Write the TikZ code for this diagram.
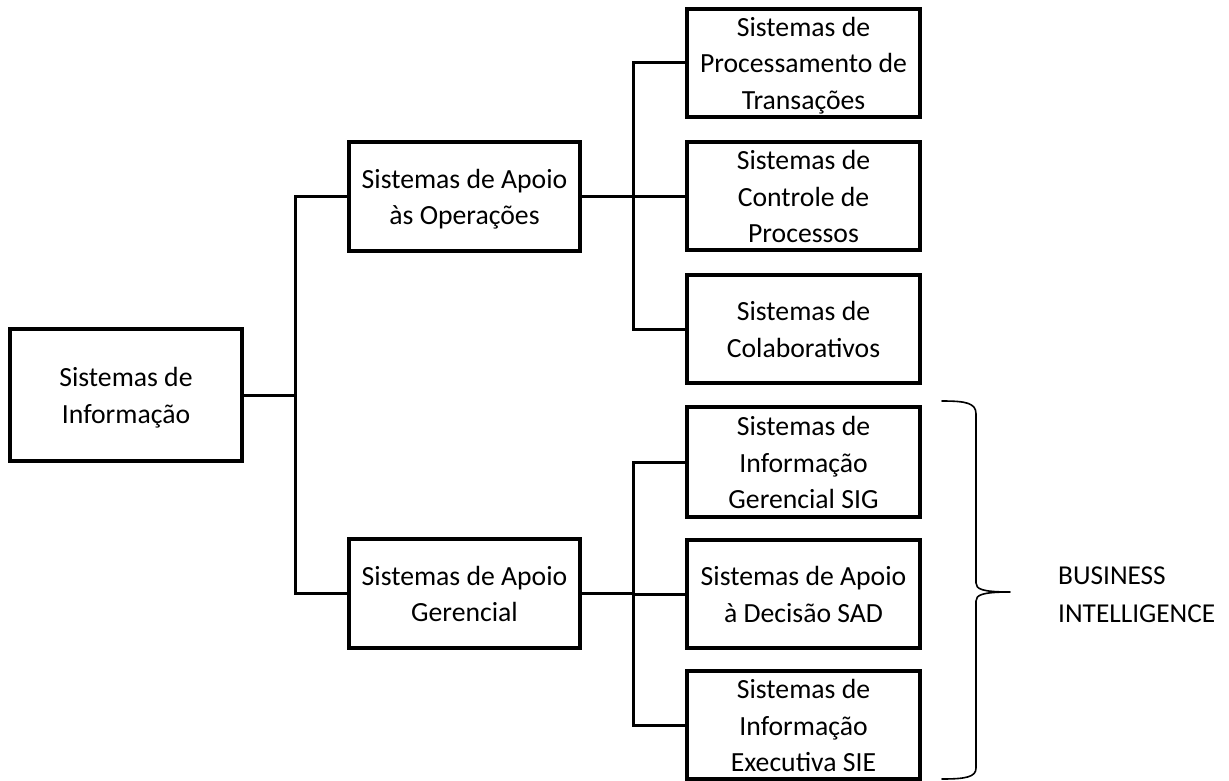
\documentclass[tikz,border=0pt]{standalone}
\usepackage{fontspec}
\setmainfont{Carlito}
% fixed line strut so every text line sits at the same height
\newcommand\tstrut{\rule[-6pt]{0pt}{32pt}}
\begin{document}
\begin{tikzpicture}[x=1pt,y=-1pt,
  box/.style={draw, line width=3.3pt, inner sep=0pt, minimum width=232pt,
    minimum height=108pt, align=center,
    font=\fontsize{27.7}{36.5}\selectfont},
  link/.style={line width=3pt},
  brace/.style={line width=1.6pt, line cap=round, line join=round}]
\useasboundingbox (0,0) rectangle (1229,781);

% root
\node[box, minimum height=132pt] (si) at (126,395)
  {\tstrut Sistemas de\\\tstrut Informação};

% second level
\node[box, minimum width=231pt, minimum height=109pt] (ops) at (464.5,196.5)
  {\tstrut Sistemas de Apoio\\\tstrut às Operações};
\node[box, minimum width=231pt, minimum height=109pt] (ger) at (464.5,593.5)
  {\tstrut Sistemas de Apoio\\\tstrut Gerencial};

% operational systems
\node[box, minimum width=233pt] (r1) at (803.5,63)
  {\tstrut Sistemas de\\\tstrut Processamento de\\\tstrut Transações};
\node[box, minimum width=233pt] (r2) at (803.5,196)
  {\tstrut Sistemas de\\\tstrut Controle de\\\tstrut Processos};
\node[box, minimum width=233pt] (r3) at (803.5,329)
  {\tstrut Sistemas de\\\tstrut Colaborativos};

% management systems
\node[box, minimum width=233pt, minimum height=110pt] (r4) at (803.5,462)
  {\tstrut Sistemas de\\\tstrut Informação\\\tstrut Gerencial SIG};
\node[box, minimum width=233pt] (r5) at (803.5,594)
  {\tstrut Sistemas de Apoio\\\tstrut à Decisão SAD};
\node[box, minimum width=233pt] (r6) at (803.5,725)
  {\tstrut Sistemas de\\\tstrut Informação\\\tstrut Executiva SIE};

% junction columns
\coordinate (ja) at (295,395);
\coordinate (jb) at (633,196);
\coordinate (jc) at (633,593);

% connectors
\draw[link] (si.east) -- (si.east -| ja);
\draw[link] (ops.west) -- (ops.west -| ja) -- (ger.west -| ja) -- (ger.west);

\draw[link] (ops.east) -- (ops.east -| jb);
\draw[link] (r1.west) -- (r1.west -| jb) -- (r3.west -| jb) -- (r3.west);
\draw[link] (r2.west) -- (r2.west -| jb);

\draw[link] (ger.east) -- (ger.east -| jc);
\draw[link] (r4.west) -- (r4.west -| jc) -- (r6.west -| jc) -- (r6.west);
\draw[link] (r5.west) -- (r5.west -| jc);

% brace around the business intelligence systems
\coordinate (btop) at (942,401);
\coordinate (btip) at (1010,592);
\coordinate (bbot) at (942,779);
\draw[brace] (btop) .. controls (966,401) and (976,403) .. (976,414)
  -- (976,583) .. controls (976,589) and (982,592) .. (btip)
  .. controls (982,592) and (976,595) .. (976,601)
  -- (976,768) .. controls (976,777) and (966,779) .. (bbot);

\node[anchor=west, inner sep=0pt, align=left,
  font=\fontsize{27.3}{38}\selectfont] (bi) at (1058,593)
  {\tstrut BUSINESS\\\tstrut INTELLIGENCE};
\end{tikzpicture}
\end{document}
